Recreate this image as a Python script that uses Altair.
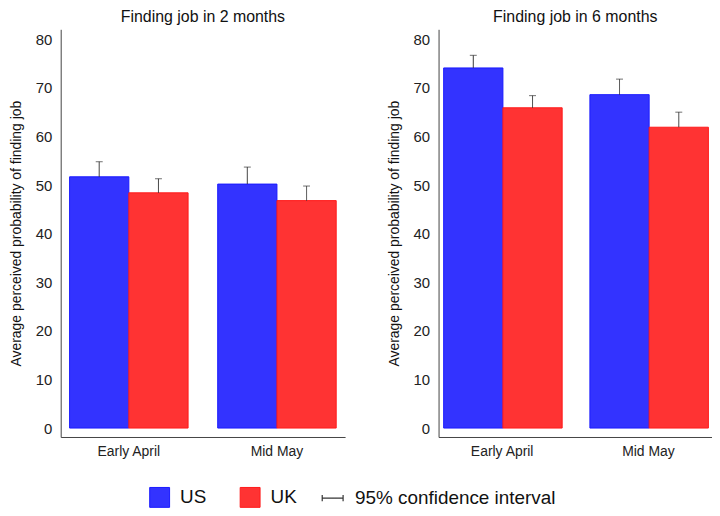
import altair as alt
import pandas as pd

panel_titles = ["Finding job in 2 months", "Finding job in 6 months"]
periods = ["Early April", "Mid May"]
countries = ["US", "UK"]
# order: US-Early April, UK-Early April, US-Mid May, UK-Mid May
mean_2m = [51.7, 48.4, 50.2, 46.8]
upper_2m = [54.8, 51.3, 53.7, 49.8]
mean_6m = [74.1, 65.9, 68.6, 61.9]
upper_6m = [76.7, 68.4, 71.8, 65.0]
y_ticks = [0, 10, 20, 30, 40, 50, 60, 70, 80]
ci_label = "95% confidence interval"
fill_colors = ["#3333ff", "#ff3333"]
stroke_colors = ["#1a1aff", "#ff1a1a"]
FONT = "Liberation Sans"


def frame(means, uppers):
    rows = []
    i = 0
    for p in periods:
        for c in countries:
            rows.append(dict(period=p, country=c, mean=means[i], upper=uppers[i], ci=ci_label))
            i += 1
    return pd.DataFrame(rows)


def panel(df, title, width, pad_outer):
    base = alt.Chart(df).encode(
        x=alt.X("period:N", sort=periods, title=None,
                scale=alt.Scale(paddingInner=0.2, paddingOuter=pad_outer),
                axis=alt.Axis(labelAngle=0, ticks=False, tickSize=0, domainColor="#444",
                              labelPadding=8, labelFontSize=14, labelColor="#222")),
        xOffset=alt.XOffset("country:N", sort=countries,
                            scale=alt.Scale(paddingInner=0, paddingOuter=0)),
    )
    yscale = alt.Scale(domain=[-1.84, 82.05], nice=False, zero=False)
    fill_legend = alt.Legend(title=None, orient="none", legendX=89, legendY=460,
                             direction="horizontal", symbolType="square", symbolSize=400,
                             symbolStrokeWidth=1, labelOffset=10, columnPadding=31,
                             labelFontSize=19, padding=0)
    bars = base.mark_bar(strokeWidth=1).encode(
        y=alt.Y("mean:Q", scale=yscale,
                title="Average perceived probability of finding job",
                axis=alt.Axis(values=y_ticks, grid=False, ticks=False, tickSize=0,
                              domainColor="#444",
                              labelPadding=9, labelFontSize=15, labelColor="#222",
                              titleFontSize=14, titleFontWeight="normal", titleColor="#111",
                              titlePadding=12)),
        y2=alt.datum(0),
        fill=alt.Fill("country:N", sort=countries,
                      scale=alt.Scale(domain=countries, range=fill_colors),
                      legend=fill_legend),
        stroke=alt.Stroke("country:N", sort=countries,
                          scale=alt.Scale(domain=countries, range=stroke_colors),
                          legend=fill_legend),
    )
    rules = base.mark_rule(color="#333", strokeWidth=1).encode(
        y=alt.Y("mean:Q"),
        y2="upper:Q",
        strokeDash=alt.StrokeDash(
            "ci:N", scale=alt.Scale(domain=[ci_label], range=[[1, 0]]),
            legend=alt.Legend(title=None, orient="none", legendX=262, legendY=460,
                              symbolType="M-1,0H1M-1,-0.3V0.3M1,-0.3V0.3",
                              symbolStrokeColor="#333", symbolStrokeWidth=1.2,
                              symbolSize=441, labelOffset=11, labelFontSize=19,
                              labelLimit=400, padding=0)),
    )
    caps = base.mark_tick(color="#333", size=7, thickness=1, orient="horizontal").encode(
        y=alt.Y("upper:Q")
    )
    return alt.layer(bars, rules, caps).properties(
        width=width, height=410, title=alt.Title(title)
    )


chart = alt.hconcat(
    panel(frame(mean_2m, upper_2m), panel_titles[0], 286, 0.06),
    panel(frame(mean_6m, upper_6m), panel_titles[1], 275, 0.035),
    spacing=42,
).properties(
    padding={"left": 1, "top": 0, "right": 0, "bottom": 0}
).configure(
    font=FONT
).configure_view(
    stroke=None
).configure_title(
    fontSize=16, fontWeight="normal", color="#111", offset=4
).configure_legend(
    labelColor="#111", labelLimit=400
)

chart.save("out.html", embed_options={"renderer": "svg", "actions": False})
